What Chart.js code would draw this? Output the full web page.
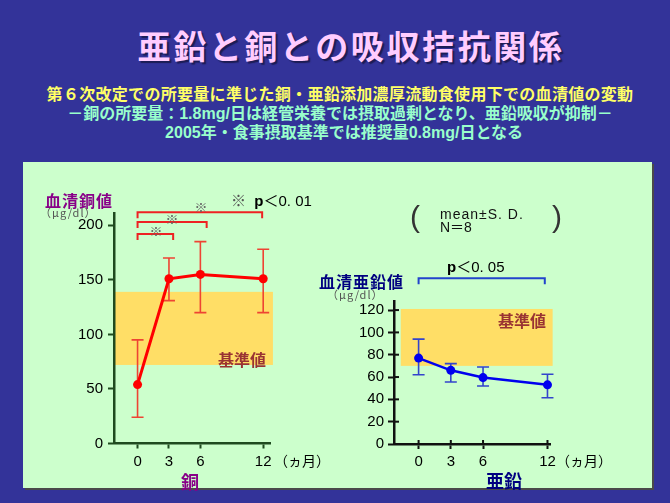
<!DOCTYPE html>
<html><head><meta charset="utf-8">
<script src="https://cdn.jsdelivr.net/npm/chart.js@4/dist/chart.umd.min.js"></script>
<style>
html,body{margin:0;padding:0;}
body{width:670px;height:503px;background:#333399;position:relative;overflow:hidden;font-family:"Noto Sans CJK JP","Noto Sans",sans-serif;}
.t{position:absolute;white-space:nowrap;line-height:1;}
.c{transform:translate(-50%,-50%);}
.l{transform:translate(0,-50%);}
#panel{position:absolute;left:23px;top:162px;width:629px;height:326px;background:#ccffcc;box-shadow:2px 2px 0 #4a4a4a;}
canvas{position:absolute;}
.num{font-family:"Liberation Sans","Noto Sans CJK JP",sans-serif;}
</style></head><body>
<div class="t c" style="left:351px;top:45px;font-size:33px;font-weight:bold;letter-spacing:2.6px;color:#ffccff;text-shadow:2px 2px 1px #1c1c55;">亜鉛と銅との吸収拮抗関係</div>
<div class="t c" style="left:340px;top:93px;font-size:16px;font-weight:bold;letter-spacing:0.3px;color:#ffff66;">第６次改定での所要量に準じた銅・亜鉛添加濃厚流動食使用下での血清値の変動</div>
<div class="t c" style="left:340px;top:113px;font-size:16px;font-weight:bold;color:#99ffcc;">－銅の所要量：<span class="num">1.8mg/</span>日は経管栄養では摂取過剰となり、亜鉛吸収が抑制－</div>
<div class="t c" style="left:344px;top:132px;font-size:16px;font-weight:bold;color:#99ffcc;"><span class="num">2005</span>年・食事摂取基準では推奨量<span class="num">0.8mg/</span>日となる</div>

<div id="panel"></div>

<canvas id="cu" width="230" height="274" style="left:60px;top:200px;width:230px;height:274px;"></canvas>
<canvas id="zn" width="230" height="204" style="left:340px;top:270px;width:230px;height:204px;"></canvas>

<!-- copper chart texts -->
<div class="t l" style="left:45px;top:200px;font-size:16px;font-weight:bold;letter-spacing:1px;color:#880088;">血清銅値</div>
<div class="t l" style="left:40px;top:212px;font-size:11px;letter-spacing:1px;color:#555;">（μg/dl）</div>
<div class="t l" style="left:218px;top:359px;font-size:16px;font-weight:bold;color:#993333;">基準値</div>
<div class="t l num" style="left:231px;top:200px;font-size:15px;"><span style="color:#555">※</span>&nbsp;&nbsp;<b>p</b>＜0. 01</div>
<div class="t c" style="left:156px;top:230px;font-size:13px;color:#666;">※</div>
<div class="t c" style="left:172px;top:218px;font-size:13px;color:#666;">※</div>
<div class="t c" style="left:201px;top:206px;font-size:13px;color:#666;">※</div>
<div class="t l" style="left:274px;top:460px;font-size:14px;color:#000;">（ヵ月）</div>
<div class="t c" style="left:190px;top:481px;font-size:18px;font-weight:bold;color:#880088;">銅</div>

<!-- zinc chart texts -->
<div class="t l" style="left:319px;top:281px;font-size:16px;font-weight:bold;letter-spacing:1px;color:#000080;">血清亜鉛値</div>
<div class="t l" style="left:327px;top:294px;font-size:11px;letter-spacing:1px;color:#555;">（μg/dl）</div>
<div class="t l" style="left:498px;top:320px;font-size:16px;font-weight:bold;color:#993333;">基準値</div>
<div class="t l num" style="left:447px;top:266px;font-size:15px;"><b>p</b>＜0. 05</div>
<div class="t l" style="left:556px;top:460px;font-size:14px;color:#000;">（ヵ月）</div>
<div class="t c" style="left:504px;top:480px;font-size:18px;font-weight:bold;color:#000080;">亜鉛</div>

<!-- mean ± SD note -->
<div class="t c num" style="left:415px;top:217px;font-size:30px;font-weight:300;color:#333;">(</div>
<div class="t c num" style="left:557px;top:217px;font-size:30px;font-weight:300;color:#333;">)</div>
<div class="t l num" style="left:440px;top:214px;font-size:14px;letter-spacing:1px;color:#111;">mean±S. D.</div>
<div class="t l num" style="left:440px;top:227px;font-size:14px;color:#111;">N＝8</div>

<script>
// ---- data ----
const months = [0, 3, 6, 12];
const xTickLabels = ['0', '3', '6', '12'];
const copperMean = [54, 151, 155, 151];
const copperHigh = [95, 170, 185, 178];
const copperLow  = [24, 131, 120, 120];
const copperYTicks = [0, 50, 100, 150, 200];
const copperRef = [72, 139];
const copperBracketEnd = [3.4, 6.6, 11.9];
const copperBracketLevel = [192, 203, 212];

const zincMean = [77, 66, 59.5, 53];
const zincHigh = [94, 72, 69, 62.5];
const zincLow  = [62, 55.5, 52, 41.5];
const zincYTicks = [0, 20, 40, 60, 80, 100, 120];
const zincRef = [70, 121];
const zincBracketEnd = [11.75];
const zincBracketLevel = [148.5];

const overlay = {
  id: 'overlay',
  beforeDraw(chart, args, o) {
    const ctx = chart.ctx, xs = chart.scales.x, ys = chart.scales.y;
    const x0 = xs.getPixelForValue(o.bandX[0]), x1 = xs.getPixelForValue(o.bandX[1]);
    const yt = ys.getPixelForValue(o.band[1]), yb = ys.getPixelForValue(o.band[0]);
    ctx.save();
    ctx.fillStyle = o.bandColor;
    ctx.fillRect(x0, yt, x1 - x0, yb - yt);
    ctx.restore();
  },
  beforeDatasetsDraw(chart, args, o) {
    const ctx = chart.ctx, xs = chart.scales.x, ys = chart.scales.y;
    ctx.save();
    ctx.strokeStyle = o.errColor;
    ctx.lineWidth = 1.6;
    o.xs.forEach((m, i) => {
      const px = xs.getPixelForValue(m);
      const ph = ys.getPixelForValue(o.high[i]), pl = ys.getPixelForValue(o.low[i]);
      ctx.beginPath();
      ctx.moveTo(px, ph); ctx.lineTo(px, pl);
      ctx.moveTo(px - 6, ph); ctx.lineTo(px + 6, ph);
      ctx.moveTo(px - 6, pl); ctx.lineTo(px + 6, pl);
      ctx.stroke();
    });
    ctx.restore();
  },
  afterDraw(chart, args, o) {
    const ctx = chart.ctx, xs = chart.scales.x, ys = chart.scales.y, ca = chart.chartArea;
    ctx.save();
    ctx.strokeStyle = o.bracketColor;
    ctx.lineWidth = 2;
    o.bracketEnd.forEach((e, i) => {
      const py = ys.getPixelForValue(o.bracketLevel[i]);
      const a = xs.getPixelForValue(0), b = xs.getPixelForValue(e);
      ctx.beginPath();
      ctx.moveTo(a, py + 6); ctx.lineTo(a, py); ctx.lineTo(b, py); ctx.lineTo(b, py + 6);
      ctx.stroke();
    });
    if (o.crossTicks) {
      ctx.strokeStyle = o.axisColor;
      ctx.lineWidth = 2;
      ys.ticks.forEach(t => {
        const py = ys.getPixelForValue(t.value);
        ctx.beginPath(); ctx.moveTo(ca.left, py); ctx.lineTo(ca.left + 5, py); ctx.stroke();
      });
      xs.ticks.forEach(t => {
        const px = xs.getPixelForValue(t.value);
        ctx.beginPath(); ctx.moveTo(px, ca.bottom); ctx.lineTo(px, ca.bottom - 4); ctx.stroke();
      });
    }
    ctx.restore();
  }
};

function makeChart(id, mean, high, low, yTicks, ref, cfg) {
  const axisGrid = {display: true, drawOnChartArea: false, drawTicks: true, tickLength: 6, tickWidth: 2, tickColor: cfg.axisColor, color: cfg.axisColor};
  return new Chart(document.getElementById(id), {
    type: 'line',
    data: {
      datasets: [{
        data: months.map((m, i) => ({x: m, y: mean[i]})),
        borderColor: cfg.lineColor,
        backgroundColor: cfg.lineColor,
        borderWidth: cfg.lineWidth,
        pointRadius: 4.5,
        pointBorderWidth: 0,
        pointBackgroundColor: cfg.lineColor,
        tension: 0,
        clip: false
      }]
    },
    options: {
      responsive: false,
      animation: false,
      layout: {padding: cfg.padding},
      plugins: {
        legend: {display: false},
        tooltip: {enabled: false},
        overlay: {
          band: ref, bandX: cfg.bandX, bandColor: '#ffde66',
          xs: months, high: high, low: low, errColor: cfg.errColor,
          bracketEnd: cfg.bracketEnd, bracketLevel: cfg.bracketLevel, bracketColor: cfg.bracketColor,
          crossTicks: cfg.crossTicks, axisColor: cfg.axisColor
        }
      },
      scales: {
        x: {
          type: 'linear', min: cfg.xMin, max: cfg.xMax,
          grid: Object.assign({}, axisGrid, {tickLength: 5}),
          border: {display: true, color: cfg.axisColor, width: 2.5},
          ticks: {color: '#000', font: {family: 'Liberation Sans', size: 15}, padding: 4, autoSkip: false, maxRotation: 0,
                  callback: (v) => { const i = months.indexOf(v); return i >= 0 ? xTickLabels[i] : ''; }},
          afterBuildTicks: (s) => { s.ticks = months.map(v => ({value: v})); },
          afterFit: (s) => { s.height = cfg.xHeight; s.paddingLeft = 0; s.paddingRight = 0; }
        },
        y: {
          min: 0, max: cfg.yMax,
          grid: axisGrid,
          border: {display: true, color: cfg.axisColor, width: 2.5},
          ticks: {color: '#000', font: {family: 'Liberation Sans', size: 15}, padding: cfg.yPad},
          afterBuildTicks: (s) => { s.ticks = yTicks.map(v => ({value: v})); },
          afterFit: (s) => { s.width = 54; s.paddingTop = 0; s.paddingBottom = 0; }
        }
      }
    },
    plugins: [overlay]
  });
}

makeChart('cu', copperMean, copperHigh, copperLow, copperYTicks, copperRef, {
  axisColor: '#1f4a1f', lineColor: '#ff0000', lineWidth: 3, errColor: '#ee4433',
  bracketColor: '#ee2222', bracketEnd: copperBracketEnd, bracketLevel: copperBracketLevel,
  xMin: -2.25, xMax: 12.65, yMax: 211, bandX: [-2.25, 12.93],
  padding: {top: 13.3, right: 20, bottom: 0, left: 0}, xHeight: 30.5, yPad: 5, crossTicks: false
});
makeChart('zn', zincMean, zincHigh, zincLow, zincYTicks, zincRef, {
  axisColor: '#111111', lineColor: '#0000ee', lineWidth: 2.5, errColor: '#3344cc',
  bracketColor: '#2244cc', bracketEnd: zincBracketEnd, bracketLevel: zincBracketLevel,
  xMin: -2.29, xMax: 12.3, yMax: 127.5, bandX: [-1.66, 12.48],
  padding: {top: 31.7, right: 19.3, bottom: 0, left: 0}, xHeight: 30, yPad: 4, crossTicks: true
});
</script>
</body></html>
